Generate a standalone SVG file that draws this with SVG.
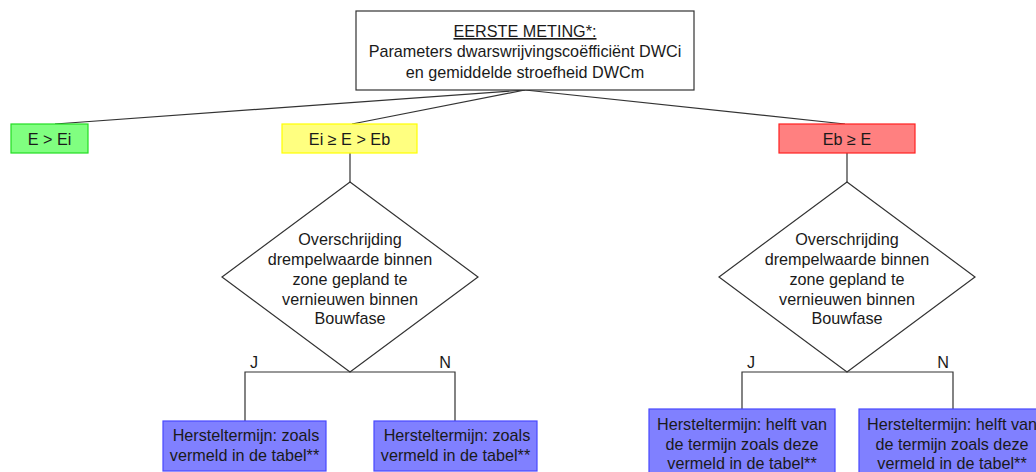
<svg xmlns="http://www.w3.org/2000/svg" width="1036" height="472" viewBox="0 0 1036 472">
<style>
text{font-family:"Liberation Sans",Arial,sans-serif;font-size:16.2px;fill:#1a1a1a;text-anchor:middle}
.ln{stroke:#333;stroke-width:1.2;fill:none}
.dia{fill:#fff;stroke:#333;stroke-width:1.2}
.blue{fill:#8080ff;stroke:#4848ff;stroke-width:1.2}
</style>
<rect width="1036" height="472" fill="#fff"/>
<g id="connectors">
<path class="ln" d="M525,90 L55,124"/>
<path class="ln" d="M525,90 L352,124"/>
<path class="ln" d="M525,90 L845,124"/>
<path class="ln" d="M350,153 L350,182"/>
<path class="ln" d="M847,153 L847,182"/>
<path class="ln" d="M245,421 L245,372 L455,372 L455,421"/>
<path class="ln" d="M742,409 L742,372 L953,372 L953,409"/>
</g>
<g id="top">
<rect x="356" y="11" width="338" height="79" fill="#fff" stroke="#333" stroke-width="1.2"/>
<text x="525" y="37" text-decoration="underline">EERSTE METING*:</text>
<text x="525" y="57">Parameters dwarswrijvingscoëfficiënt DWCi</text>
<text x="525" y="78">en gemiddelde stroefheid DWCm</text>
</g>
<g id="green">
<rect x="11" y="124" width="77" height="29" fill="#80ff80" stroke="#22dd22" stroke-width="1.2"/>
<text x="49.5" y="145">E &gt; Ei</text>
</g>
<g id="yellow">
<rect x="282" y="124" width="135" height="29" fill="#ffff80" stroke="#ffff00" stroke-width="1.2"/>
<text x="349.5" y="145">Ei ≥ E &gt; Eb</text>
</g>
<g id="red">
<rect x="779" y="124" width="136" height="29" fill="#ff8080" stroke="#ff2020" stroke-width="1.2"/>
<text x="847" y="145">Eb ≥ E</text>
</g>
<g id="diamond1">
<polygon class="dia" points="350,182 478,277 350,372 222,277"/>
<text x="350" y="245">Overschrijding</text>
<text x="350" y="265">drempelwaarde binnen</text>
<text x="350" y="285">zone gepland te</text>
<text x="350" y="305">vernieuwen binnen</text>
<text x="350" y="324">Bouwfase</text>
</g>
<g id="diamond2">
<polygon class="dia" points="847,182 975,277 847,372 719,277"/>
<text x="847" y="245">Overschrijding</text>
<text x="847" y="265">drempelwaarde binnen</text>
<text x="847" y="285">zone gepland te</text>
<text x="847" y="305">vernieuwen binnen</text>
<text x="847" y="324">Bouwfase</text>
</g>
<g id="labels">
<text x="254" y="368">J</text>
<text x="445" y="368">N</text>
<text x="751" y="368">J</text>
<text x="943" y="368">N</text>
</g>
<g id="box1">
<rect class="blue" x="163" y="421" width="163" height="50"/>
<text x="246" y="441">Hersteltermijn: zoals</text>
<text x="244.5" y="461">vermeld in de tabel**</text>
</g>
<g id="box2">
<rect class="blue" x="374" y="421" width="163" height="50"/>
<text x="457" y="441">Hersteltermijn: zoals</text>
<text x="455.5" y="461">vermeld in de tabel**</text>
</g>
<g id="box3">
<rect class="blue" x="649" y="409" width="186" height="70"/>
<text x="742" y="430">Hersteltermijn: helft van</text>
<text x="742" y="450">de termijn zoals deze</text>
<text x="742" y="469">vermeld in de tabel**</text>
</g>
<g id="box4">
<rect class="blue" x="859" y="409" width="186" height="70"/>
<text x="952" y="430">Hersteltermijn: helft van</text>
<text x="952" y="450">de termijn zoals deze</text>
<text x="952" y="469">vermeld in de tabel**</text>
</g>
</svg>
